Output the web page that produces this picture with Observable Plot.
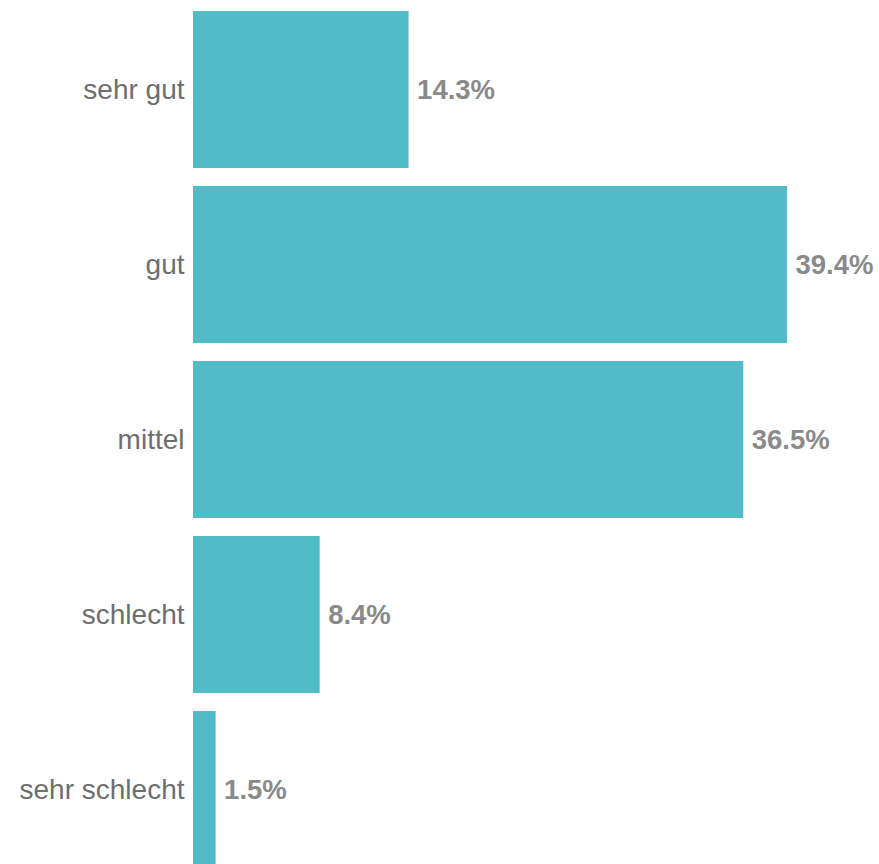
<!DOCTYPE html>
<html>
<head>
<meta charset="utf-8">
<script src="https://cdn.jsdelivr.net/npm/d3@7"></script>
<script src="https://cdn.jsdelivr.net/npm/@observablehq/plot@0.6"></script>
<style>
  html, body { margin: 0; padding: 0; background: #fff; overflow: hidden; }
  #chart { width: 879px; height: 864px; overflow: hidden; }
</style>
</head>
<body>
<div id="chart"></div>
<script>
const categories = ["sehr gut", "gut", "mittel", "schlecht", "sehr schlecht"];
const values = [14.3, 39.4, 36.5, 8.4, 1.5];
const valueLabels = ["14.3%", "39.4%", "36.5%", "8.4%", "1.5%"];

const data = categories.map((c, i) => ({category: c, value: values[i], label: valueLabels[i]}));

const chart = Plot.plot({
  width: 879,
  height: 877,
  marginTop: 2,
  marginBottom: 0,
  marginLeft: 193,
  marginRight: 92,
  style: {fontFamily: "'Liberation Sans', Arial, sans-serif", background: "#fff"},
  x: {domain: [0, 39.4], range: [193, 787], axis: null},
  y: {domain: categories, paddingInner: 0.103, paddingOuter: 0.05, label: null},
  marks: [
    Plot.barX(data, {y: "category", x: "value", fill: "#51bcc8"}),
    Plot.text(data, {
      y: "category", x: "value", text: "label",
      dx: 8, textAnchor: "start", fontSize: 27.5, fontWeight: "bold", fill: "#8a8a8a"
    }),
    Plot.axisY({tickSize: 0, tickPadding: 9, fontSize: 28, fill: "#6e6e6e", label: null})
  ]
});
document.getElementById("chart").appendChild(chart);
</script>
</body>
</html>
